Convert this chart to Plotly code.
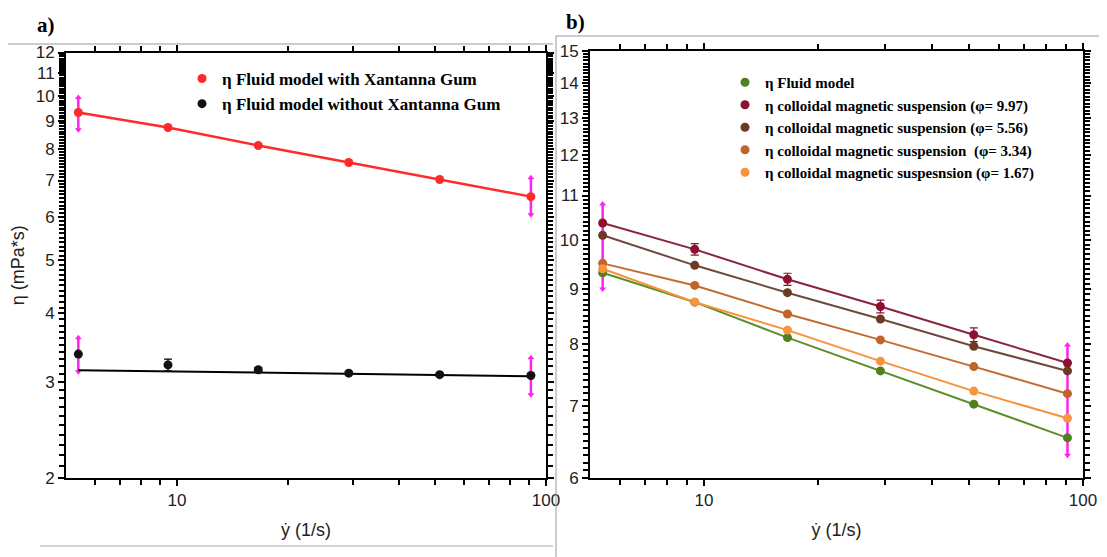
import numpy as np
import plotly.graph_objects as go
from plotly.subplots import make_subplots

# ---------------- data ----------------
shear_rate = [5.4, 9.45, 16.6, 29.2, 51.5, 91.0]

# panel a
eta_with_gum = [9.32, 8.75, 8.11, 7.55, 7.03, 6.54]
eta_without_gum = [3.37, 3.22, 3.155, 3.11, 3.09, 3.08]
eta_without_gum_err = [0.0, 0.08, 0.03, 0.02, 0.02, 0.0]
without_gum_fit_x = [5.4, 91.0]
without_gum_fit_y = [3.15, 3.07]

# panel b
eta_fluid = [9.32, 8.75, 8.11, 7.55, 7.03, 6.54]
eta_phi_997 = [10.37, 9.80, 9.19, 8.67, 8.16, 7.68]
eta_phi_556 = [10.10, 9.47, 8.93, 8.44, 7.96, 7.55]
eta_phi_334 = [9.51, 9.07, 8.53, 8.07, 7.62, 7.19]
eta_phi_167 = [9.40, 8.75, 8.24, 7.71, 7.23, 6.82]
eta_phi_997_err = [0.0, 0.12, 0.12, 0.12, 0.12, 0.0]

# magenta range bars (x, centre, low, high)
a_bar_x = [5.4, 91.0, 5.4, 91.0]
a_bar_y = [9.32, 6.54, 3.37, 3.08]
a_bar_lo = [8.67, 6.06, 3.13, 2.84]
a_bar_hi = [9.93, 7.08, 3.61, 3.32]
b_bar_x = [5.4, 91.0]
b_bar_y = [9.9, 7.2]
b_bar_lo = [9.0, 6.3]
b_bar_hi = [10.8, 7.98]

x_tick_vals = [10, 100]
x_tick_text = ["10", "100"]
x_minor = [6, 7, 8, 9, 20, 30, 40, 50, 60, 70, 80, 90]
a_y_ticks = [2, 3, 4, 5, 6, 7, 8, 9, 10, 11, 12]
b_y_ticks = [6, 7, 8, 9, 10, 11, 12, 13, 14, 15]

# ---------------- figure ----------------
OFF = 8  # page body margin
W, H = 1107 - OFF, 557 - OFF


def px(x):
    return (x - OFF) / W


def py(y):
    return 1 - (y - OFF) / H


fig = make_subplots(rows=1, cols=2)


def bar_traces(xs, ys, lo, hi, row, col):
    ys = np.array(ys)
    lo = np.array(lo)
    hi = np.array(hi)
    fig.add_trace(go.Scatter(
        x=xs, y=ys, mode="markers", marker=dict(size=1, color="rgba(0,0,0,0)"),
        error_y=dict(type="data", symmetric=False, array=hi - ys, arrayminus=ys - lo,
                     color="#ff22ee", thickness=2.5, width=0),
        showlegend=False, hoverinfo="skip"), row=row, col=col)
    fig.add_trace(go.Scatter(
        x=list(xs) + list(xs), y=list(hi) + list(lo), mode="markers",
        marker=dict(symbol=["triangle-up"] * len(xs) + ["triangle-down"] * len(xs),
                    size=6, color="#ff22ee"),
        showlegend=False, hoverinfo="skip"), row=row, col=col)


# panel a
bar_traces(a_bar_x, a_bar_y, a_bar_lo, a_bar_hi, 1, 1)
fig.add_trace(go.Scatter(x=shear_rate, y=eta_with_gum, mode="lines",
                         line=dict(color="#ff2a2a", width=2.5),
                         showlegend=False, hoverinfo="skip"), row=1, col=1)
fig.add_trace(go.Scatter(x=without_gum_fit_x, y=without_gum_fit_y, mode="lines",
                         line=dict(color="black", width=2),
                         showlegend=False, hoverinfo="skip"), row=1, col=1)
fig.add_trace(go.Scatter(x=shear_rate, y=eta_with_gum, mode="markers",
                         marker=dict(color="#ff2a2a", size=9),
                         name="η Fluid model with Xantanna Gum", legend="legend"), row=1, col=1)
fig.add_trace(go.Scatter(x=shear_rate, y=eta_without_gum, mode="markers",
                         marker=dict(color="#111111", size=9),
                         error_y=dict(type="data", array=eta_without_gum_err, color="black",
                                      thickness=1.2, width=4),
                         name="η Fluid model without Xantanna Gum", legend="legend"), row=1, col=1)

# panel b
bar_traces(b_bar_x, b_bar_y, b_bar_lo, b_bar_hi, 1, 2)
series_b = [
    ("η Fluid model", eta_fluid, "#4f7f23", "#5d8f2c"),
    ("η colloidal magnetic suspension (φ= 9.97)", eta_phi_997, "#8c1030", "#8a2340"),
    ("η colloidal magnetic suspension (φ= 5.56)", eta_phi_556, "#6b3a22", "#6f4a3c"),
    ("η colloidal magnetic suspension  (φ= 3.34)", eta_phi_334, "#c0642a", "#c56a32"),
    ("η colloidal magnetic suspesnsion (φ= 1.67)", eta_phi_167, "#f7953f", "#f7923a"),
]
for name, vals, mcol, lcol in series_b:
    fig.add_trace(go.Scatter(x=shear_rate, y=vals, mode="lines",
                             line=dict(color=lcol, width=2),
                             showlegend=False, hoverinfo="skip"), row=1, col=2)
for name, vals, mcol, lcol in series_b:
    err = eta_phi_997_err if vals is eta_phi_997 else None
    fig.add_trace(go.Scatter(x=shear_rate, y=vals, mode="markers",
                             marker=dict(color=mcol, size=9),
                             error_y=(dict(type="data", array=err, color=mcol, thickness=1.2, width=4)
                                      if err else None),
                             name=name, legend="legend2"), row=1, col=2)

# ---------------- axes ----------------
axis_common = dict(showline=True, linecolor="black", linewidth=2, mirror="ticks",
                   ticks="outside", tickwidth=1.5, ticklen=6, tickcolor="black",
                   showgrid=False, zeroline=False, automargin=False,
                   tickfont=dict(family="Liberation Sans", size=17, color="#222"))

fig.update_xaxes(type="log", range=[np.log10(5), 2], tickvals=x_tick_vals, ticktext=x_tick_text,
                 minor=dict(tickvals=x_minor, ticks="outside", ticklen=5, tickwidth=1.5, tickcolor="black"),
                 title=dict(text="ẏ (1/s)", font=dict(family="Liberation Sans", size=18, color="#222"),
                            standoff=14),
                 **axis_common)
fig.update_xaxes(domain=[px(66), px(546)], row=1, col=1)
fig.update_xaxes(domain=[px(590), px(1083)], row=1, col=2)

a_minor = [round(v, 2) for v in np.arange(2.0, 12.01, 0.1)]
b_minor = [round(v, 2) for v in np.arange(6.0, 15.01, 0.1)]
fig.update_yaxes(type="log", range=[np.log10(2), np.log10(12)], tickvals=a_y_ticks,
                 minor=dict(tickvals=a_minor, ticks="outside", ticklen=5, tickwidth=1.5, tickcolor="black"),
                 title=dict(text="η (mPa*s)", font=dict(family="Liberation Sans", size=18, color="#222"),
                            standoff=12),
                 domain=[py(478), py(52.5)], row=1, col=1, **axis_common)
fig.update_yaxes(type="log", range=[np.log10(6), np.log10(15)], tickvals=b_y_ticks,
                 minor=dict(tickvals=b_minor, ticks="outside", ticklen=5, tickwidth=1.5, tickcolor="black"),
                 domain=[py(478), py(51)], row=1, col=2, **axis_common)

# ---------------- layout ----------------
fig.update_layout(
    width=W, height=H, margin=dict(l=0, r=0, t=0, b=0, autoexpand=False),
    paper_bgcolor="white", plot_bgcolor="white",
    legend=dict(x=px(182), y=py(61), xanchor="left", yanchor="top",
                bgcolor="rgba(0,0,0,0)",
                font=dict(family="Liberation Serif", size=17, color="black", weight="bold"),
                itemwidth=30, tracegroupgap=0),
    legend2=dict(x=px(725), y=py(66), xanchor="left", yanchor="top",
                 bgcolor="rgba(0,0,0,0)",
                 font=dict(family="Liberation Serif", size=15, color="black", weight="bold"),
                 itemwidth=30, tracegroupgap=0),
    annotations=[
        dict(text="a)", x=px(46), y=py(11), xref="paper", yref="paper", showarrow=False,
             xanchor="center", yanchor="top",
             font=dict(family="Liberation Serif", size=21, color="black", weight="bold")),
        dict(text="b)", x=px(575), y=1, xref="paper", yref="paper", showarrow=False,
             xanchor="center", yanchor="top",
             font=dict(family="Liberation Serif", size=21, color="black", weight="bold")),
    ],
    shapes=[
        dict(type="line", xref="paper", yref="paper", x0=px(8), x1=px(553), y0=py(44), y1=py(44),
             line=dict(color="#999", width=1)),
        dict(type="line", xref="paper", yref="paper", x0=px(556), x1=1, y0=py(36), y1=py(36),
             line=dict(color="#999", width=1)),
        dict(type="line", xref="paper", yref="paper", x0=px(556), x1=px(556), y0=0, y1=py(36),
             line=dict(color="#999", width=1)),
        dict(type="line", xref="paper", yref="paper", x0=px(40), x1=px(553), y0=py(546), y1=py(546),
             line=dict(color="#aaa", width=1)),
    ],
)

fig.write_html("out.html")
